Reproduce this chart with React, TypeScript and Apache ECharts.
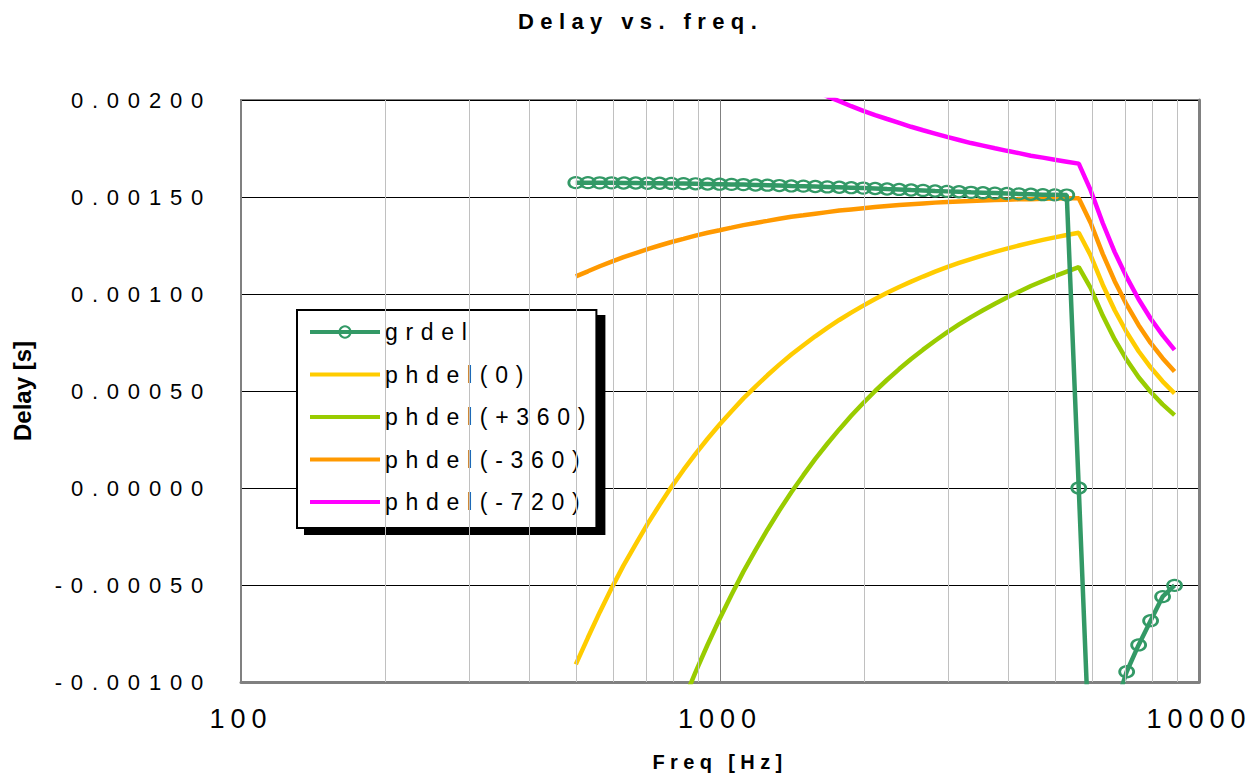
import React, { useEffect, useRef } from 'react';
import * as echarts from 'echarts';

const FONT = "'Liberation Sans', Arial, sans-serif";
const TITLE = 'Delay vs. freq.';
const X_NAME = 'Freq [Hz]';
const Y_NAME = 'Delay [s]';

const freqHz = [500, 530, 561, 594, 629, 667, 706, 748, 792, 839, 889, 942, 998, 1057, 1119, 1186, 1256, 1330, 1409, 1493, 1581, 1675, 1774, 1879, 1991, 2108, 2233, 2366, 2506, 2654, 2812, 2978, 3155, 3342, 3540, 3749, 3972, 4207, 4456, 4720, 5000, 5296, 5610, 5942, 6295, 6668, 7063, 7481, 7924, 8394, 8891];

const grdel = [0.001574, 0.001574, 0.001573, 0.001573, 0.001572, 0.001572, 0.001571, 0.001571, 0.001570, 0.001569,
  0.001568, 0.001567, 0.001566, 0.001565, 0.001564, 0.001562, 0.001561, 0.001559, 0.001557, 0.001556,
  0.001554, 0.001552, 0.001550, 0.001548, 0.001546, 0.001544, 0.001541, 0.001539, 0.001536, 0.001534,
  0.001531, 0.001529, 0.001527, 0.001524, 0.001522, 0.001520, 0.001518, 0.001516, 0.001514, 0.001512,
  0.001511, 0.001510, 0.000000, -0.001530, -0.001300, -0.001140, -0.000947, -0.000809, -0.000684, -0.000560,
  -0.000502];

const phdel0 = [-0.000909, -0.000771, -0.000640, -0.000516, -0.000399, -0.000289, -0.000185, -0.000087, 0.000006, 0.000093,
  0.000176, 0.000254, 0.000327, 0.000396, 0.000462, 0.000523, 0.000581, 0.000636, 0.000688, 0.000736,
  0.000782, 0.000825, 0.000866, 0.000904, 0.000940, 0.000974, 0.001006, 0.001036, 0.001064, 0.001090,
  0.001115, 0.001138, 0.001160, 0.001180, 0.001199, 0.001217, 0.001234, 0.001250, 0.001265, 0.001279,
  0.001292, 0.001304, 0.001316, 0.001198, 0.001048, 0.000916, 0.000803, 0.000705, 0.000622, 0.000550,
  0.000488];

const phdelP360 = [-0.002909, -0.002659, -0.002423, -0.002199, -0.001988, -0.001789, -0.001601, -0.001424, -0.001256, -0.001098,
  -0.000949, -0.000808, -0.000675, -0.000550, -0.000431, -0.000320, -0.000215, -0.000116, -0.000022, 0.000066,
  0.000150, 0.000228, 0.000302, 0.000372, 0.000438, 0.000500, 0.000558, 0.000613, 0.000665, 0.000713,
  0.000759, 0.000802, 0.000843, 0.000881, 0.000916, 0.000950, 0.000982, 0.001012, 0.001041, 0.001067,
  0.001092, 0.001115, 0.001138, 0.001030, 0.000889, 0.000766, 0.000661, 0.000571, 0.000496, 0.000431,
  0.000376];

const phdelM360 = [0.001091, 0.001117, 0.001143, 0.001167, 0.001190, 0.001211, 0.001231, 0.001250, 0.001268, 0.001284,
  0.001301, 0.001316, 0.001329, 0.001342, 0.001355, 0.001366, 0.001377, 0.001388, 0.001398, 0.001406,
  0.001414, 0.001422, 0.001430, 0.001436, 0.001442, 0.001448, 0.001454, 0.001459, 0.001463, 0.001467,
  0.001471, 0.001474, 0.001477, 0.001479, 0.001482, 0.001484, 0.001486, 0.001488, 0.001489, 0.001491,
  0.001492, 0.001493, 0.001494, 0.001366, 0.001207, 0.001066, 0.000945, 0.000839, 0.000748, 0.000669,
  0.000600];

const phdelM720 = [0.003091, 0.003005, 0.002926, 0.002850, 0.002779, 0.002711, 0.002647, 0.002587, 0.002530, 0.002475,
  0.002426, 0.002378, 0.002331, 0.002288, 0.002248, 0.002209, 0.002173, 0.002140, 0.002108, 0.002076,
  0.002046, 0.002019, 0.001994, 0.001968, 0.001944, 0.001922, 0.001902, 0.001882, 0.001862, 0.001844,
  0.001827, 0.001810, 0.001794, 0.001778, 0.001765, 0.001751, 0.001738, 0.001726, 0.001713, 0.001703,
  0.001692, 0.001682, 0.001672, 0.001534, 0.001366, 0.001216, 0.001087, 0.000973, 0.000874, 0.000788,
  0.000712];

const minorFreqTicks = [200, 300, 400, 500, 600, 700, 800, 900, 2000, 3000, 4000, 5000, 6000, 7000, 8000, 9000];

const seriesNames = ['grdel', 'phdel(0)', 'phdel(+360)', 'phdel(-360)', 'phdel(-720)'];
const seriesValues = [grdel, phdel0, phdelP360, phdelM360, phdelM720];
const seriesColors = ['#339966', '#FFCC00', '#99CC00', '#FF9900', '#FF00FF'];

function spacingFor(t: string): number {
  if (/^-?\d\.\d{5}$/.test(t)) return 8.8;
  if (/^\d+$/.test(t)) return 6;
  if (t === TITLE) return 6.4;
  if (t === X_NAME) return 5.4;
  if (seriesNames.includes(t)) return 7.7;
  return 0;
}

function buildOption(): any {
  const lineSeries = seriesNames.map((name, k) => {
    const isGr = k === 0;
    return {
      name,
      type: 'line',
      data: freqHz.map((f, i) => [f, seriesValues[k][i]]),
      z: isGr ? 4 : 2,
      silent: true,
      clip: true,
      symbol: isGr ? 'circle' : 'none',
      symbolSize: isGr ? [14, 11] : 0,
      showSymbol: isGr,
      lineStyle: { color: seriesColors[k], width: 4.5 },
      itemStyle: isGr
        ? { color: 'rgba(0,0,0,0)', borderColor: seriesColors[k], borderWidth: 2.5 }
        : { color: seriesColors[k] },
      emphasis: { disabled: true },
    };
  });

  const legendData = seriesNames.map((name, k) =>
    k === 0 ? { name } : { name, itemStyle: { opacity: 0 } }
  );

  return {
    animation: false,
    backgroundColor: '#ffffff',
    textStyle: { fontFamily: FONT },
    tooltip: { show: false },
    title: {
      text: TITLE,
      left: 518,
      top: 10,
      padding: 0,
      textStyle: { fontSize: 22, fontWeight: 'bold', color: '#000', fontFamily: FONT },
    },
    legend: {
      data: legendData,
      orient: 'vertical',
      left: 297,
      top: 310,
      padding: [10, 88, 14, 11],
      itemGap: 18.5,
      itemWidth: 70,
      itemHeight: 14,
      backgroundColor: '#ffffff',
      borderColor: '#000000',
      borderWidth: 2,
      borderRadius: 0,
      shadowColor: '#000000',
      shadowBlur: 0,
      shadowOffsetX: 8,
      shadowOffsetY: 6,
      selectedMode: false,
      lineStyle: { width: 4 },
      textStyle: { fontSize: 23, color: '#000', fontFamily: FONT, lineHeight: 24 },
    },
    grid: {
      left: 241,
      top: 100,
      width: 958,
      height: 582,
      show: true,
      borderColor: '#808080',
      borderWidth: 2,
      backgroundColor: 'rgba(0,0,0,0)',
    },
    xAxis: {
      type: 'log',
      logBase: 10,
      min: 100,
      max: 10000,
      name: X_NAME,
      nameLocation: 'middle',
      nameGap: 70,
      nameTextStyle: { fontSize: 20, fontWeight: 'bold', color: '#000', fontFamily: FONT },
      axisLine: { show: true, onZero: false, lineStyle: { color: '#808080', width: 3 } },
      axisTick: { show: false },
      axisLabel: {
        fontSize: 27,
        color: '#000',
        margin: 23,
        fontFamily: FONT,
        formatter: (v: number) => String(Math.round(v)),
      },
      splitLine: { show: true, lineStyle: { color: '#808080', width: 1 } },
    },
    yAxis: [
      {
        type: 'value',
        min: -0.001,
        max: 0.002,
        interval: 0.0005,
        name: Y_NAME,
        nameLocation: 'middle',
        nameGap: 207,
        nameTextStyle: { fontSize: 24, fontWeight: 'bold', color: '#000', fontFamily: FONT },
        axisLine: { show: true, lineStyle: { color: '#808080', width: 2 } },
        axisTick: { show: false },
        axisLabel: {
          fontSize: 22,
          color: '#000',
          margin: 29,
          fontFamily: FONT,
          formatter: (v: number) => v.toFixed(5),
        },
        splitLine: { show: true, lineStyle: { color: '#000', width: 1 } },
      },
      {
        type: 'value',
        position: 'right',
        min: -0.001,
        max: 0.002,
        interval: 0.0005,
        axisLine: { show: true, lineStyle: { color: '#808080', width: 3 } },
        axisTick: { show: false },
        axisLabel: { show: false },
        splitLine: { show: false },
      },
    ],
    series: [
      {
        name: '_minor',
        type: 'line',
        data: [],
        z: 1,
        silent: true,
        markLine: {
          silent: true,
          animation: false,
          symbol: ['none', 'none'],
          label: { show: false },
          lineStyle: { color: '#c0c0c0', width: 1, type: 'solid' },
          data: minorFreqTicks.map((f) => ({ xAxis: f })),
        },
      },
      ...lineSeries,
    ],
  };
}

export default function App() {
  const ref = useRef<HTMLDivElement>(null);
  useEffect(() => {
    document.body.style.margin = '0';
    const el = ref.current as HTMLDivElement;
    const chart = echarts.init(el, null, { renderer: 'svg' });
    chart.setOption(buildOption());
    const apply = () => {
      el.querySelectorAll('text').forEach((t) => {
        const ls = spacingFor((t.textContent || '').trim());
        (t as any).style.letterSpacing = ls ? ls + 'px' : '';
      });
    };
    apply();
    chart.on('finished', apply);
    const timer = setTimeout(apply, 60);
    return () => {
      clearTimeout(timer);
      chart.dispose();
    };
  }, []);
  return (
    <div style={{ position: 'fixed', left: 0, top: 0, width: 1258, height: 779, background: '#ffffff' }}>
      <div ref={ref} style={{ width: 1258, height: 779 }} />
    </div>
  );
}
